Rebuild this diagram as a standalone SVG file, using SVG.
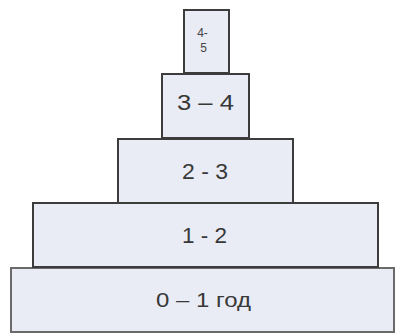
<svg xmlns="http://www.w3.org/2000/svg" width="395" height="334" viewBox="0 0 395 334">
<style>
.b{fill:#e9ecf5;stroke:#3c3c3c;stroke-width:2}
.t{font-family:"Liberation Sans",Arial,sans-serif;font-size:22px;fill:#383838;text-anchor:middle}
.s{font-family:"Liberation Sans",Arial,sans-serif;font-size:12px;fill:#444;text-anchor:middle}
</style>
<rect width="395" height="334" fill="#fff"/>
<g id="n5"><rect class="b" x="11" y="268" width="383" height="64" style="stroke:#6a6a6a"/><text class="t" x="203.5" y="307" style="font-size:20px" textLength="95" lengthAdjust="spacingAndGlyphs">0 – 1 год</text></g>
<g id="n4"><rect class="b" x="33" y="203" width="345" height="64"/><text class="t" x="204.5" y="243" textLength="45" lengthAdjust="spacingAndGlyphs">1 - 2</text></g>
<g id="n3"><rect class="b" x="118" y="139" width="175" height="64"/><text class="t" x="205" y="179" textLength="46" lengthAdjust="spacingAndGlyphs">2 - 3</text></g>
<g id="n2"><rect class="b" x="162" y="74" width="87" height="64"/><text class="t" x="205.5" y="110" textLength="57" lengthAdjust="spacingAndGlyphs">3 – 4</text></g>
<g id="n1"><rect class="b" x="184" y="10" width="45" height="63"/><text class="s" x="202.5" y="37">4-</text><text class="s" x="203.5" y="52">5</text></g>
<g id="connectors"/>
</svg>
